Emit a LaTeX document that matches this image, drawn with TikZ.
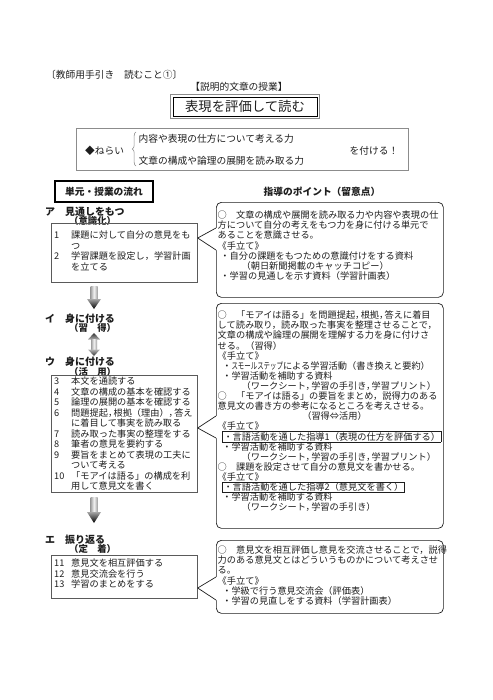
\documentclass[tikz,border=0pt]{standalone}
\usepackage{fontspec}
\setmainfont{Noto Sans CJK JP}
\usetikzlibrary{positioning, calc, fit, decorations.pathreplacing}
\definecolor{Ink}{HTML}{1E1E1E}
\definecolor{Frame}{HTML}{5A5A5A}
\definecolor{Soft}{HTML}{8C8C8C}
\newcommand{\topstrut}{\rule{0pt}{0.88em}}
\newcommand{\numcol}[1]{\makebox[1.85em][l]{#1}}
\newcommand{\ncomma}{，\kern-.4em}
\newcommand{\markedline}[1]{\smash{\setlength{\fboxsep}{0.5pt}\setlength{\fboxrule}{0.5pt}\fbox{#1}}}
\tikzset{
    leftbox/.style={rectangle, draw=Frame, line width=0.6pt, anchor=north west, minimum width=43.8mm, inner sep=0pt},
    pointbox/.style={rectangle, rounded corners=1.5mm, draw=Ink, line width=0.6pt, fill=white, anchor=north west, minimum width=68.1mm, inner sep=0pt},
    lefttext/.style={anchor=north west, align=left, inner sep=0pt, text=Ink, font=\fontsize{7.85pt}{8.95pt}\selectfont},
    pointtext/.style={anchor=north west, align=left, inner sep=0pt, text=Ink, font=\fontsize{7.85pt}{8.63pt}\selectfont},
    stage/.style={anchor=west, inner sep=0pt, text=Ink, font=\fontsize{8.5pt}{10pt}\selectfont\bfseries},
    stagesub/.style={anchor=west, inner sep=0pt, text=Ink, font=\fontsize{8pt}{10pt}\selectfont\bfseries},
    plain/.style={inner sep=0pt, text=Ink, font=\fontsize{8.3pt}{10pt}\selectfont},
    wedge/.style={draw=Ink, line width=0.6pt, line join=miter},
}

\begin{document}
\begin{tikzpicture}[x=0.3mm, y=-0.3mm]
    \fill[white] (0,0) rectangle (493,700);
    \useasboundingbox (0,0) rectangle (493,700);

    % Kopf
    \node[plain, anchor=west] (guide) at (46,75) {〔教師用手引き　読むこと①〕};
    \node[plain] (lesson) at (239,87) {【説明的文章の授業】};
    \node[draw=black, line width=0.5pt, minimum width=43.2mm, minimum height=5.7mm, inner sep=0pt, text=Ink, font=\fontsize{11.4pt}{13pt}\selectfont] (title) at (245,106.5) {表現を評価して読む};
    \node[draw=Soft, line width=0.9pt, inner sep=0.55mm, fit=(title)] (titleframe) {};

    % ねらい
    \node[draw=Soft, line width=0.6pt, minimum width=99.6mm, minimum height=12.6mm, anchor=north west] (aim) at (76,128) {};
    \node[plain, anchor=west] (aimlabel) at (85,151) {◆ねらい};
    \node[plain, anchor=west] (aimone) at (138.5,139) {内容や表現の仕方について考える力};
    \node[plain, anchor=west] (aimtwo) at (138.5,161) {文章の構成や論理の展開を読み取る力};
    \node[plain, anchor=west] (aimend) at (349.5,151) {を付ける！};
    \draw[decorate, decoration={brace, amplitude=1.1mm}, Soft, line width=0.5pt] (136,166) -- (136,132);

    % Spaltenkoepfe
    \node[draw=black, line width=1.3pt, minimum width=29.4mm, minimum height=6.3mm, inner sep=0pt, text=Ink, font=\fontsize{8.3pt}{10pt}\selectfont\bfseries] (flow) at (104,191.5) {単元・授業の流れ};
    \node[plain, font=\fontsize{8.3pt}{10pt}\selectfont\bfseries] (points) at (322,192) {指導のポイント（留意点）};

    % Stufen links
    \node[stage] (stageA) at (45,212) {ア　見通しをもつ};
    \node[stagesub] (stageAsub) at (69,221) {（意識化）};
    \node[stage] (stageB) at (45,319) {イ　身に付ける};
    \node[stagesub] (stageBsub) at (69,328) {（習　得）};
    \node[stage] (stageC) at (45,362) {ウ　身に付ける};
    \node[stagesub] (stageCsub) at (69,372) {（活　用）};
    \node[stage] (stageD) at (45,540) {エ　振り返る};
    \node[stagesub] (stageDsub) at (69,549) {（定　着）};

    \node[leftbox, minimum height=17.7mm] (lb1) at (51,223) {};
    \node[leftbox, minimum height=35.1mm] (lb2) at (51,375) {};
    \node[leftbox, minimum height=12.9mm] (lb3) at (51,555) {};

    \node[lefttext] (lt1) at (54,230.4) {\topstrut\numcol{1}課題に対して自分の意見をも\\
        \numcol{}つ\\
        \numcol{2}学習課題を設定し，学習計画\\
        \numcol{}を立てる};
    \node[lefttext] (lt2) at (54,376.4) {\topstrut\numcol{3}本文を通読する\\
        \numcol{4}文章の構成の基本を確認する\\
        \numcol{5}論理の展開の基本を確認する\\
        \numcol{6}問題提起\ncomma 根拠（理由）\ncomma 答え\\
        \numcol{}に着目して事実を読み取る\\
        \numcol{7}読み取った事実の整理をする\\
        \numcol{8}筆者の意見を要約する\\
        \numcol{9}要旨をまとめて表現の工夫に\\
        \numcol{}ついて考える\\
        \numcol{10}「モアイは語る」の構成を利\\
        \numcol{}用して意見文を書く};
    \node[lefttext] (lt3) at (54,558.4) {\topstrut\numcol{11}意見文を相互評価する\\
        \numcol{12}意見交流会を行う\\
        \numcol{13}学習のまとめをする};

    % Pfeile
    \shade[left color=gray!75, right color=gray!75, middle color=gray!10] (90.5,286) rectangle (97.5,299.5);
    \shade[top color=gray!70, bottom color=black] (87,299) -- (101,299) -- (94,309) -- cycle;
    \shade[top color=black!80, bottom color=gray!60] (88,339.5) -- (94,333) -- (100,339.5) -- cycle;
    \shade[left color=gray!75, right color=gray!75, middle color=gray!10] (91,339) rectangle (97,350);
    \shade[top color=gray!60, bottom color=black!80] (88,349.5) -- (100,349.5) -- (94,356) -- cycle;
    \shade[left color=gray!75, right color=gray!75, middle color=gray!10] (90.5,497) rectangle (97.5,512.5);
    \shade[top color=gray!70, bottom color=black] (87,512) -- (101,512) -- (94,523) -- cycle;

    % Sprechblasen rechts
    \node[pointbox, minimum height=28.5mm] (rb1) at (216,202) {};
    \node[pointbox, minimum height=67.5mm] (rb2) at (216,303) {};
    \node[pointbox, minimum height=21.9mm] (rb3) at (216,540) {};

    \coordinate (tipA) at ($(lb1.north east)+(0,15)$);
    \coordinate (tipB) at ($(lb2.north east)+(0,53)$);
    \coordinate (tipC) at ($(lb3.north east)+(0,33)$);

    \fill[white] (tipA) -- ($(rb1.north west)+(0,26)$) -- ($(rb1.north west)+(1,26)$) -- ($(rb1.north west)+(1,48)$) -- ($(rb1.north west)+(0,48)$) -- cycle;
    \draw[wedge] ($(rb1.north west)+(0,26)$) -- (tipA) -- ($(rb1.north west)+(0,48)$);
    \fill[white] (tipB) -- ($(rb2.north west)+(0,113)$) -- ($(rb2.north west)+(1,113)$) -- ($(rb2.north west)+(1,135)$) -- ($(rb2.north west)+(0,135)$) -- cycle;
    \draw[wedge] ($(rb2.north west)+(0,113)$) -- (tipB) -- ($(rb2.north west)+(0,135)$);
    \fill[white] (tipC) -- ($(rb3.north west)+(0,37)$) -- ($(rb3.north west)+(1,37)$) -- ($(rb3.north west)+(1,60)$) -- ($(rb3.north west)+(0,60)$) -- cycle;
    \draw[wedge] ($(rb3.north west)+(0,37)$) -- (tipC) -- ($(rb3.north west)+(0,60)$);

    \node[pointtext] (pt1) at (217.5,210.4) {\topstrut○　文章の構成や展開を読み取る力や内容や表現の仕\\
        方について自分の考えをもつ力を身に付ける単元で\\
        あることを意識させる。\\
        《手立て》\\
        \hspace*{0.3em}・自分の課題をもつための意識付けをする資料\\
        \hspace*{2.6em}（朝日新聞掲載のキャッチコピー）\\
        \hspace*{0.3em}・学習の見通しを示す資料（学習計画表）};
    \node[pointtext] (pt2) at (217.5,310.4) {\topstrut○　「モアイは語る」を問題提起\ncomma 根拠\ncomma 答えに着目\\
        して読み取り，読み取った事実を整理させることで，\\
        文章の構成や論理の展開を理解する力を身に付けさ\\
        せる。（習得）\\
        《手立て》\\
        \hspace*{0.5em}・\scalebox{0.7}[1]{スモールステップ}による学習活動（書き換えと要約）\\
        \hspace*{0.5em}・学習活動を補助する資料\\
        \hspace*{2.6em}（ワークシート\ncomma 学習の手引き\ncomma 学習プリント）\\
        ○　「モアイは語る」の要旨をまとめ，説得力のある\\
        意見文の書き方の参考になるところを考えさせる。\\
        \hspace*{9.2em}（習得⇔活用）\\
        《手立て》\\
        \hspace*{0.5em}\markedline{・言語活動を通した指導1（表現の仕方を評価する）}\\
        \hspace*{0.5em}・学習活動を補助する資料\\
        \hspace*{2.6em}（ワークシート\ncomma 学習の手引き\ncomma 学習プリント）\\
        ○　課題を設定させて自分の意見文を書かせる。\\
        《手立て》\\
        \hspace*{0.5em}\markedline{・言語活動を通した指導2（意見文を書く）}\\
        \hspace*{0.5em}・学習活動を補助する資料\\
        \hspace*{2.6em}（ワークシート\ncomma 学習の手引き）};
    \node[pointtext] (pt3) at (217.5,545.4) {\topstrut○　意見文を相互評価し意見を交流させることで，説得\\
        力のある意見文とはどういうものかについて考えさせ\\
        る。\\
        《手立て》\\
        \hspace*{0.5em}・学級で行う意見交流会（評価表）\\
        \hspace*{0.5em}・学習の見直しをする資料（学習計画表）};
\end{tikzpicture}
\end{document}
